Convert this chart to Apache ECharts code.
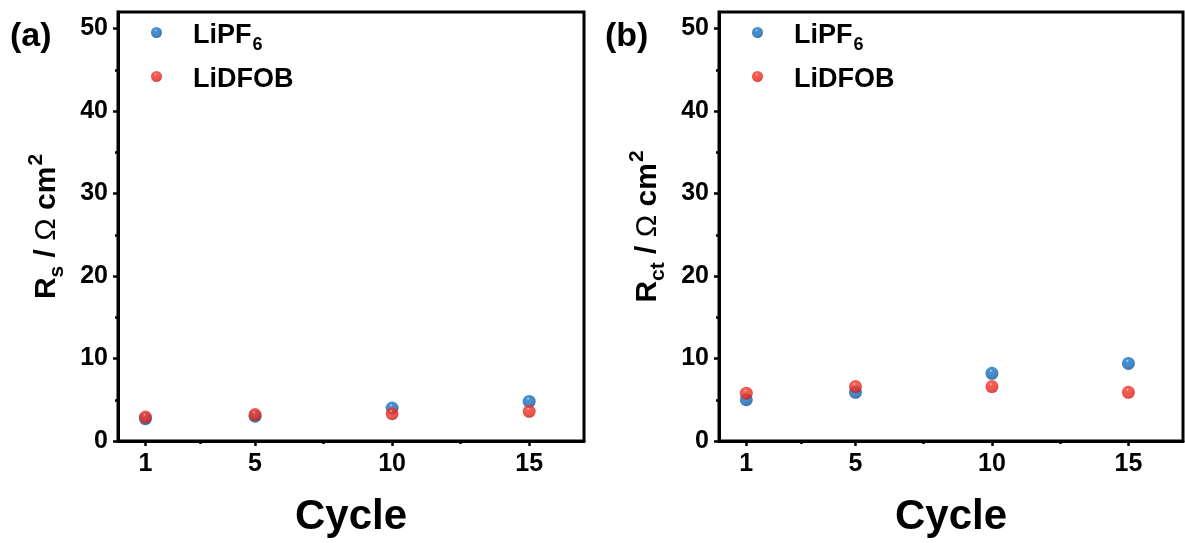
<!DOCTYPE html>
<html>
<head>
<meta charset="utf-8">
<script src="https://cdn.jsdelivr.net/npm/echarts@6/dist/echarts.min.js"></script>
<style>html,body{margin:0;padding:0;background:#fff}#c{width:1185px;height:543px}</style>
</head>
<body>
<div id="c"></div>
<script>
// ---- data ----
var cycles = [1, 5, 10, 15];
var rsLiPF6 = [2.7, 3.0, 4.0, 4.8];
var rsLiDFOB = [2.9, 3.2, 3.3, 3.6];
var rctLiPF6 = [5.0, 5.9, 8.2, 9.4];
var rctLiDFOB = [5.8, 6.6, 6.6, 5.9];
var xMajorTicks = [1, 5, 10, 15];
var xMinorTicks = [3, 7.5, 12.5];
var yMajorTicks = [0, 10, 20, 30, 40, 50];
var yMinorTicks = [5, 15, 25, 35, 45];
var seriesNames = ['LiPF6', 'LiDFOB'];

var FONT = '"Liberation Sans", Arial, sans-serif';
function pairs(xs, ys) { return xs.map(function (x, i) { return [x, ys[i]]; }); }

var blueGrad = {type: 'radial', x: 0.42, y: 0.3, r: 0.72, colorStops: [
  {offset: 0, color: '#d6ecff'}, {offset: 0.14, color: '#1f78c8'}, {offset: 0.7, color: '#1366b3'}, {offset: 1, color: '#0b4c8c'}]};
var redGrad = {type: 'radial', x: 0.42, y: 0.3, r: 0.72, colorStops: [
  {offset: 0, color: '#ffe0dc'}, {offset: 0.14, color: '#f5392c'}, {offset: 0.7, color: '#e8281d'}, {offset: 1, color: '#b81a10'}]};

function xAxes(grid) {
  return [{
    gridIndex: grid, type: 'value', min: 0, max: 17,
    axisLine: {show: true, lineStyle: {color: '#000', width: 3}},
    axisTick: {show: true, inside: false, length: 5, customValues: xMajorTicks, lineStyle: {color: '#000', width: 2.5}},
    axisLabel: {show: true, customValues: xMajorTicks, margin: 11, color: '#000', fontFamily: FONT, fontWeight: 'bold', fontSize: 25},
    splitLine: {show: false},
    name: 'Cycle', nameLocation: 'middle', nameGap: 55,
    nameTextStyle: {color: '#000', fontFamily: FONT, fontWeight: 'bold', fontSize: 42}
  }, {
    gridIndex: grid, type: 'value', min: 0, max: 17, position: 'bottom',
    axisLine: {show: false},
    axisTick: {show: true, inside: false, length: 3, customValues: xMinorTicks, lineStyle: {color: '#000', width: 2.5}},
    axisLabel: {show: false}, splitLine: {show: false}
  }];
}
function yAxes(grid, subText) {
  return [{
    gridIndex: grid, type: 'value', min: 0, max: 52,
    axisLine: {show: true, lineStyle: {color: '#000', width: 3}},
    axisTick: {show: true, inside: false, length: 5, customValues: yMajorTicks, lineStyle: {color: '#000', width: 2.5}},
    axisLabel: {show: true, customValues: yMajorTicks, margin: 10, color: '#000', fontFamily: FONT, fontWeight: 'bold', fontSize: 25},
    splitLine: {show: false},
    name: '{b|R}{sub|' + subText + '}{b| / }{o|Ω}{b| cm}{sup|2}',
    nameLocation: 'middle', nameRotate: 90, nameGap: 56,
    nameTextStyle: {
      color: '#000', fontFamily: FONT, fontSize: 30,
      rich: {
        b: {fontFamily: FONT, fontWeight: 'bold', fontSize: 30, lineHeight: 36, color: '#000', verticalAlign: 'bottom'},
        o: {fontFamily: FONT, fontWeight: 'normal', fontSize: 30, lineHeight: 36, color: '#000', verticalAlign: 'bottom'},
        sub: {fontFamily: FONT, fontWeight: 'bold', fontSize: 21, lineHeight: 21, color: '#000', verticalAlign: 'bottom', padding: [0, 0, -6, 0]},
        sup: {fontFamily: FONT, fontWeight: 'bold', fontSize: 21, lineHeight: 21, color: '#000', verticalAlign: 'top', padding: [0, 0, 0, 1]}
      }
    }
  }, {
    gridIndex: grid, type: 'value', min: 0, max: 52, position: 'left',
    axisLine: {show: false},
    axisTick: {show: true, inside: false, length: 3, customValues: yMinorTicks, lineStyle: {color: '#000', width: 2.5}},
    axisLabel: {show: false}, splitLine: {show: false}
  }];
}
function legend(left) {
  return {
    orient: 'vertical', left: left, top: 14, itemWidth: 11, itemHeight: 11, itemGap: 9,
    icon: 'circle', data: seriesNames,
    formatter: function (n) { return n === 'LiPF6' ? '{g|}{t|LiPF}{s|6}' : '{g|}{t|LiDFOB}'; },
    textStyle: {
      color: '#000', fontFamily: FONT, fontWeight: 'bold', fontSize: 27,
      rich: {
        g: {width: 26},
        t: {fontFamily: FONT, fontWeight: 'bold', fontSize: 27, lineHeight: 33, color: '#000', verticalAlign: 'bottom'},
        s: {fontFamily: FONT, fontWeight: 'bold', fontSize: 18, lineHeight: 18, color: '#000', verticalAlign: 'bottom', padding: [0, 0, -5, 1]}
      }
    }
  };
}
function scatter(name, xi, yi, data, color) {
  return {name: name, type: 'scatter', xAxisIndex: xi, yAxisIndex: yi, data: data,
    symbol: 'circle', symbolSize: 13, itemStyle: {color: color}, clip: false};
}

var chart = echarts.init(document.getElementById('c'), null, {renderer: 'canvas'});
chart.setOption({
  backgroundColor: '#fff',
  animation: false,
  grid: [
    {left: 118, top: 12, width: 466, height: 430, show: true, borderColor: '#000', borderWidth: 3, backgroundColor: 'transparent'},
    {left: 719, top: 12, width: 464, height: 430, show: true, borderColor: '#000', borderWidth: 3, backgroundColor: 'transparent'}
  ],
  xAxis: xAxes(0).concat(xAxes(1)),
  yAxis: yAxes(0, 's').concat(yAxes(1, 'ct')),
  legend: [legend(146), legend(747)],
  graphic: [
    {type: 'text', left: 10, top: 20, style: {text: '(a)', fill: '#000', font: 'bold 34px ' + FONT}},
    {type: 'text', left: 605, top: 20, style: {text: '(b)', fill: '#000', font: 'bold 34px ' + FONT}}
  ],
  series: [
    scatter('LiPF6', 0, 0, pairs(cycles, rsLiPF6), blueGrad),
    scatter('LiDFOB', 0, 0, pairs(cycles, rsLiDFOB), redGrad),
    scatter('LiPF6', 2, 2, pairs(cycles, rctLiPF6), blueGrad),
    scatter('LiDFOB', 2, 2, pairs(cycles, rctLiDFOB), redGrad)
  ]
});
</script>
</body>
</html>
